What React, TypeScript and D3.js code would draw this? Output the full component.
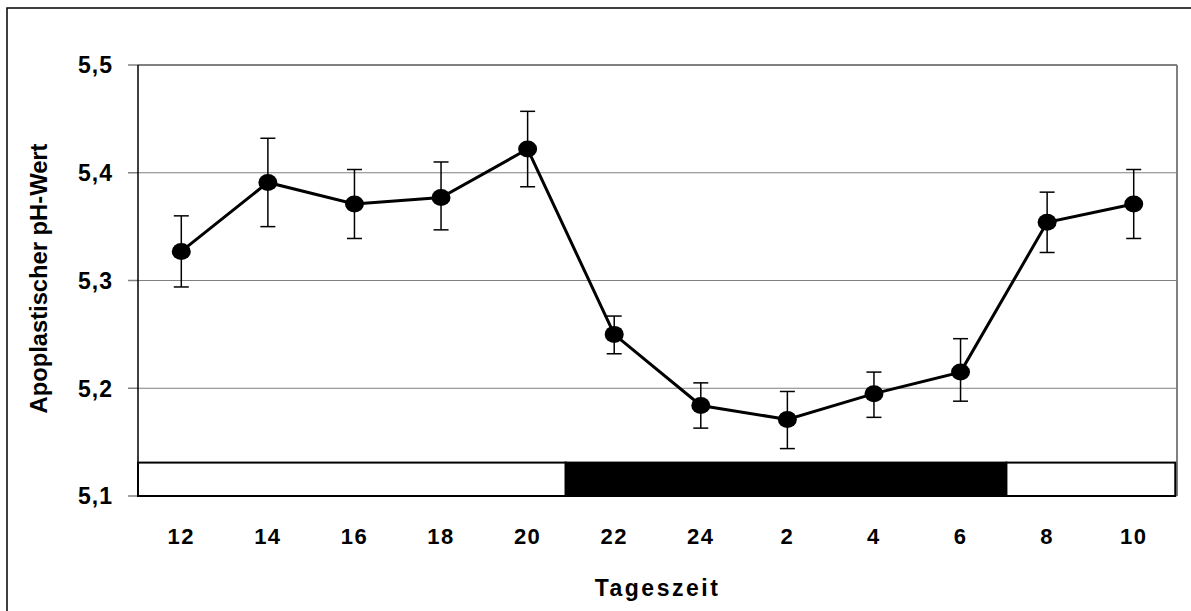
import React from "react";
import * as d3 from "d3";

const categories = ["12", "14", "16", "18", "20", "22", "24", "2", "4", "6", "8", "10"];
const meanValues = [5.327, 5.391, 5.371, 5.377, 5.422, 5.250, 5.184, 5.171, 5.195, 5.215, 5.354, 5.371];
const upperValues = [5.360, 5.432, 5.403, 5.410, 5.457, 5.267, 5.205, 5.197, 5.215, 5.246, 5.382, 5.403];
const lowerValues = [5.294, 5.350, 5.339, 5.347, 5.387, 5.232, 5.163, 5.144, 5.173, 5.188, 5.326, 5.339];
const yTicks = [5.1, 5.2, 5.3, 5.4, 5.5];
// light/dark bar segments in category units (0 = left edge of first category)
const lightDarkStarts = [0, 4.94, 10.03];
const lightDarkEnds = [4.94, 10.03, 11.98];
const lightDarkFill = ["#ffffff", "#000000", "#ffffff"];
const barTopValue = 5.131;

const W = 1191;
const H = 611;
const left = 138;
const right = 1177;
const top = 65;
const bottom = 496;

export default function App() {
  const y = d3.scaleLinear().domain([5.1, 5.5]).range([bottom, top]);
  const x = d3
    .scaleBand<string>()
    .domain(categories)
    .range([left, right])
    .paddingInner(0)
    .paddingOuter(0);
  const bw = x.bandwidth();
  const cx = (c: string) => (x(c) as number) + bw / 2;
  const unit = d3.scaleLinear().domain([0, categories.length]).range([left, right]);

  const line = d3
    .line<number>()
    .x((_, i) => cx(categories[i]))
    .y((d) => y(d));

  const font = "Arial, 'Liberation Sans', Helvetica, sans-serif";

  return (
    <svg
      width={W}
      height={H}
      style={{ position: "fixed", left: 0, top: 0, background: "#fff" }}
      fontFamily={font}
    >
      <rect x={0} y={0} width={W} height={H} fill="#fff" />
      {/* outer frame */}
      <rect x={7} y={8} width={W + 10} height={H + 10} fill="none" stroke="#000" strokeWidth={1.5} />

      {/* grid lines */}
      {yTicks
        .filter((t) => t > 5.1 && t < 5.5)
        .map((t) => (
          <line key={"g" + t} x1={left} x2={right} y1={y(t)} y2={y(t)} stroke="#808080" strokeWidth={1} />
        ))}

      {/* plot border top and right */}
      <line x1={left} x2={right} y1={top} y2={top} stroke="#808080" strokeWidth={2} />
      <line x1={right} x2={right} y1={top} y2={bottom} stroke="#808080" strokeWidth={2} />

      {/* y ticks */}
      {yTicks.map((t) => (
        <g key={"t" + t}>
          <line x1={128} x2={left} y1={y(t)} y2={y(t)} stroke="#808080" strokeWidth={1.5} />
          <text
            x={113}
            y={y(t)}
            dy="0.36em"
            textAnchor="end"
            fontSize={23}
            fontWeight="bold"
            letterSpacing={1}
          >
            {String(t.toFixed(1)).replace(".", ",")}
          </text>
        </g>
      ))}

      {/* light/dark bar */}
      {lightDarkStarts.map((s, i) => (
        <rect
          key={"ld" + i}
          x={unit(s)}
          y={y(barTopValue)}
          width={unit(lightDarkEnds[i]) - unit(s)}
          height={y(5.1) - y(barTopValue)}
          fill={lightDarkFill[i]}
          stroke="#000"
          strokeWidth={2}
        />
      ))}

      {/* left axis */}
      <line x1={left} x2={left} y1={top} y2={bottom} stroke="#000" strokeWidth={1.5} />

      {/* error bars */}
      {categories.map((c, i) => (
        <g key={"e" + c} stroke="#000" strokeWidth={1.5}>
          <line x1={cx(c)} x2={cx(c)} y1={y(upperValues[i])} y2={y(lowerValues[i])} />
          <line x1={cx(c) - 7.5} x2={cx(c) + 7.5} y1={y(upperValues[i])} y2={y(upperValues[i])} />
          <line x1={cx(c) - 7.5} x2={cx(c) + 7.5} y1={y(lowerValues[i])} y2={y(lowerValues[i])} />
        </g>
      ))}

      {/* line */}
      <path d={line(meanValues) || ""} fill="none" stroke="#000" strokeWidth={3} />

      {/* markers */}
      {categories.map((c, i) => (
        <ellipse key={"m" + c} cx={cx(c)} cy={y(meanValues[i])} rx={9.5} ry={8.5} fill="#000" />
      ))}

      {/* x tick labels */}
      {categories.map((c) => (
        <text
          key={"x" + c}
          x={cx(c)}
          y={544}
          textAnchor="middle"
          fontSize={22}
          fontWeight="bold"
          letterSpacing={1.5}
        >
          {c}
        </text>
      ))}

      {/* axis titles */}
      <text
        x={(left + right) / 2}
        y={596}
        textAnchor="middle"
        fontSize={23}
        fontWeight="bold"
        letterSpacing={2.5}
      >
        Tageszeit
      </text>
      <text
        transform={`translate(47, ${(top + bottom) / 2 - 2}) rotate(-90)`}
        textAnchor="middle"
        fontSize={23}
        fontWeight="bold"
        textLength={270}
        lengthAdjust="spacingAndGlyphs"
      >
        Apoplastischer pH-Wert
      </text>
    </svg>
  );
}
